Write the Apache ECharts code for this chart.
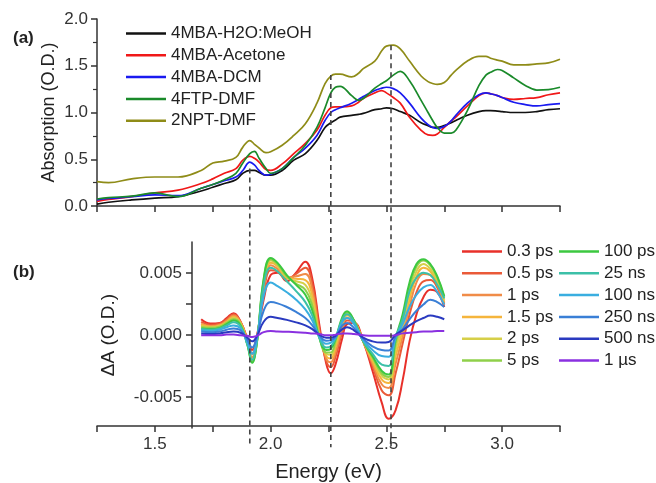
<!DOCTYPE html>
<html>
<head>
<meta charset="utf-8">
<script src="https://cdn.jsdelivr.net/npm/echarts@6/dist/echarts.min.js"></script>
<style>
html,body{margin:0;padding:0;background:#fff;}
#chart{width:656px;height:483px;}
</style>
</head>
<body>
<div id="chart"></div>
<script>
// ---------- Panel (a): steady-state absorption ----------
const absEnergy = [1.25,1.3,1.4,1.5,1.6,1.7,1.75,1.8,1.85,1.88,1.91,1.93,1.95,1.98,2.0,2.05,2.1,2.15,2.2,2.235,2.26,2.28,2.3,2.35,2.38,2.4,2.45,2.48,2.5,2.53,2.56,2.6,2.65,2.68,2.7,2.72,2.75,2.78,2.8,2.85,2.9,2.93,2.95,2.98,3.0,3.05,3.1,3.15,3.2,3.25];
const absNames = ['4MBA-H2O:MeOH','4MBA-Acetone','4MBA-DCM','4FTP-DMF','2NPT-DMF'];
const abs_4MBA_H2O = [0.02,0.04,0.065,0.085,0.10,0.16,0.20,0.24,0.28,0.35, 0.38,0.38,0.36,0.33,0.33,0.38,0.49,0.56,0.70,0.84, 0.89,0.92,0.95,0.97,0.98,0.99,1.03,1.04,1.05,1.04, 1.01,0.97,0.89,0.86,0.84,0.84,0.86,0.89,0.915,0.97, 1.01,1.02,1.02,1.015,1.01,1.00,1.00,1.01,1.03,1.04];
const abs_4MBA_Acetone = [0.05,0.07,0.10,0.14,0.17,0.24,0.29,0.35,0.40,0.49, 0.53,0.51,0.47,0.39,0.38,0.45,0.56,0.67,0.81,0.97, 1.05,1.06,1.06,1.07,1.11,1.15,1.21,1.235,1.21,1.16, 1.10,0.95,0.81,0.76,0.755,0.77,0.84,0.91,0.95,1.07, 1.18,1.21,1.20,1.18,1.16,1.14,1.15,1.16,1.19,1.21];
const abs_4MBA_DCM = [0.065,0.08,0.10,0.12,0.11,0.19,0.23,0.27,0.31,0.38, 0.47,0.44,0.38,0.33,0.34,0.40,0.52,0.62,0.755,0.915, 1.0,1.03,1.05,1.10,1.14,1.17,1.235,1.26,1.27,1.255, 1.21,1.10,0.94,0.87,0.84,0.83,0.85,0.91,0.97,1.10, 1.19,1.21,1.20,1.18,1.16,1.11,1.085,1.07,1.085,1.095];
const abs_4FTP_DMF = [0.075,0.09,0.105,0.14,0.10,0.19,0.23,0.28,0.35,0.46, 0.56,0.585,0.51,0.40,0.35,0.40,0.52,0.65,0.84,1.05, 1.21,1.27,1.28,1.18,1.13,1.15,1.26,1.31,1.34,1.40, 1.44,1.34,1.13,1.00,0.915,0.84,0.78,0.78,0.81,1.02, 1.29,1.40,1.43,1.46,1.45,1.37,1.29,1.24,1.245,1.27];
const abs_2NPT_DMF = [0.26,0.25,0.29,0.31,0.31,0.38,0.46,0.48,0.52,0.63, 0.70,0.66,0.62,0.57,0.58,0.65,0.755,0.88,1.10,1.31, 1.39,1.41,1.41,1.38,1.42,1.47,1.55,1.66,1.71,1.72, 1.68,1.55,1.39,1.33,1.31,1.30,1.32,1.40,1.45,1.55, 1.60,1.60,1.58,1.56,1.55,1.51,1.51,1.52,1.53,1.57];
const absColors = ['#111111','#f01818','#1a1af0','#1a8a2a','#8f8c18'];

// ---------- Panel (b): transient absorption, values in 10^-3 O.D. ----------
const taEnergy = [1.70,1.74,1.78,1.81,1.84,1.87,1.90,1.92,1.94,1.97,2.00,2.03,2.07,2.11,2.15,2.18,2.21,2.24,2.26,2.28,2.31,2.33,2.36,2.40,2.44,2.48,2.51,2.54,2.57,2.60,2.63,2.66,2.69,2.72,2.75];
const taNames = ['0.3 ps','0.5 ps','1 ps','1.5 ps','2 ps','5 ps','100 ps','25 ns','100 ns','250 ns','500 ns','1 \u00b5s'];
const ta_0p3ps = [1.2,0.85,0.9,1.3,1.7,1.0,-0.4,-1.3,-0.2,2.8,4.8, 5.0,4.3,5.0,5.9,4.5,0.8,-2.4,-3.2,-2.5,-0.3,0.8,0.9,-0.6,-3.0,-5.6,-6.9,-6.2,-3.8,-0.6,1.6,3.0,3.6,3.4,2.2];
const ta_0p5ps = [1.0,0.75,0.85,1.2,1.6,1.0,-0.5,-1.6,-0.4,3.3,5.2, 5.1,4.5,4.9,5.4,4.1,0.5,-2.2,-2.7,-1.9,0.2,1.1,1.0,-0.6,-2.6,-4.6,-5.0,-3.2,-0.8,1.6,3.4,4.3,4.4,3.8,2.4];
const ta_1ps = [0.85,0.65,0.75,1.1,1.5,0.95,-0.6,-1.9,-0.6,3.7,5.6, 5.3,4.6,4.7,4.9,3.6,0.2,-2.0,-2.3,-1.5,0.5,1.3,1.1,-0.6,-2.4,-4.1,-4.4,-2.4,-0.2,2.2,4.2,4.9,4.8,4.0,2.5];
const ta_1p5ps = [0.75,0.6,0.7,1.0,1.4,0.9,-0.7,-2.1,-0.7,4.0,5.8, 5.5,4.6,4.5,4.4,3.1,0.0,-1.8,-2.0,-1.1,0.8,1.5,1.1,-0.6,-2.2,-3.7,-4.0,-1.8,0.3,2.8,4.7,5.4,5.1,4.2,2.6];
const ta_2ps = [0.65,0.55,0.65,0.95,1.3,0.85,-0.8,-2.2,-0.8,4.2,6.0, 5.6,4.6,4.3,4.0,2.7,-0.1,-1.6,-1.7,-0.8,1.0,1.6,1.1,-0.6,-2.0,-3.4,-3.7,-1.3,0.8,3.3,5.1,5.7,5.3,4.4,2.8];
const ta_5ps = [0.55,0.5,0.6,0.9,1.2,0.8,-0.9,-2.3,-0.8,4.4,6.1, 5.7,4.7,4.1,3.6,2.3,-0.2,-1.5,-1.5,-0.6,1.2,1.75,1.1,-0.6,-1.9,-3.2,-3.5,-0.8,1.2,3.8,5.5,6.0,5.6,4.6,3.0];
const ta_100ps = [0.45,0.4,0.5,0.8,1.1,0.7,-0.9,-2.35,-0.8,4.5,6.2, 5.8,4.8,4.0,3.2,1.9,-0.3,-1.3,-1.2,-0.4,1.4,1.85,1.1,-0.6,-1.8,-3.0,-3.3,-0.4,1.6,4.2,5.7,6.1,5.7,4.7,3.1];
const ta_25ns = [0.4,0.35,0.45,0.7,0.95,0.6,-0.9,-2.1,-0.7,4.0,5.4, 5.1,4.3,3.5,2.6,1.5,-0.3,-1.1,-1.0,-0.35,1.2,1.6,1.0,-0.6,-1.6,-2.5,-2.6,-0.3,1.2,3.5,4.6,5.0,4.8,4.0,2.9];
const ta_100ns = [0.3,0.25,0.35,0.55,0.7,0.45,-0.7,-1.6,-0.5,3.1,4.2, 3.9,3.4,2.8,2.0,1.1,-0.2,-0.8,-0.7,-0.3,1.0,1.3,0.8,-0.5,-1.3,-1.8,-1.85,-0.3,0.8,2.2,3.2,3.8,4.0,3.4,2.4];
const ta_250ns = [0.2,0.15,0.2,0.35,0.45,0.3,-0.5,-1.1,-0.3,1.9,2.6, 2.5,2.2,1.8,1.3,0.7,-0.1,-0.55,-0.5,-0.25,0.7,0.9,0.5,-0.4,-1.0,-1.3,-1.35,-0.2,0.4,1.2,1.9,2.4,2.8,2.6,2.2];
const ta_500ns = [0.05,0.0,0.05,0.15,0.2,0.1,-0.3,-0.6,-0.2,1.0,1.4, 1.3,1.15,0.95,0.7,0.4,-0.05,-0.3,-0.3,-0.15,0.4,0.55,0.3,-0.3,-0.6,-0.7,-0.65,-0.05,0.3,0.7,1.05,1.3,1.5,1.4,1.2];
const ta_1us = [-0.1,-0.1,-0.1,-0.05,-0.05,-0.1,-0.15,-0.25,-0.15,0.15,0.25, 0.2,0.18,0.15,0.1,0.05,0.0,-0.1,-0.1,-0.05,0.05,0.05,0.0,-0.1,-0.15,-0.15,-0.15,-0.1,0.05,0.1,0.15,0.2,0.2,0.25,0.25];
const taColors = ['#e8302a','#ea5a38','#f08c48','#f5b53c','#d6cf48','#8fd04a','#3cc840','#3cc0a8','#3aaee0','#3a7fd6','#2a3ac0','#8a30e0'];

// ---------- Dashed reference lines ----------
const refEnergy = [1.91, 2.26, 2.52];
const refTopAbs = [0.40, 1.40, 1.72];
const refBottomAbs = -2.58;

// ---------- Axis ticks ----------
const absTicks = [0.0, 0.5, 1.0, 1.5, 2.0];
const taLabelTicks = [-5, 0, 5];
const taTicks = [-5, -2.5, 0, 2.5, 5];
const energyLabels = [1.5, 2.0, 2.5, 3.0];

const FONT = 'Liberation Sans, Arial, sans-serif';
const AX = '#333';

function zip(xs, ys){ return xs.map((x,i)=>[x, ys[i]]); }

const absSeriesData = [abs_4MBA_H2O, abs_4MBA_Acetone, abs_4MBA_DCM, abs_4FTP_DMF, abs_2NPT_DMF];
const taSeriesData = [ta_0p3ps, ta_0p5ps, ta_1ps, ta_1p5ps, ta_2ps, ta_5ps, ta_100ps, ta_25ns, ta_100ns, ta_250ns, ta_500ns, ta_1us];

const series = [];
absSeriesData.forEach((d,i)=>{
  series.push({
    name: absNames[i], type:'line', xAxisIndex:0, yAxisIndex:0,
    data: zip(absEnergy, d), showSymbol:false, symbol:'none', smooth:0.4,
    lineStyle:{color:absColors[i], width:1.7}, itemStyle:{color:absColors[i]}, z:3
  });
});
taSeriesData.forEach((d,i)=>{
  series.push({
    name: taNames[i], type:'line', xAxisIndex:1, yAxisIndex:1,
    data: zip(taEnergy, d), showSymbol:false, symbol:'none', smooth:0.45,
    lineStyle:{color:taColors[i], width:2}, itemStyle:{color:taColors[i]}, z:3
  });
});
refEnergy.forEach((e,i)=>{
  series.push({
    type:'line', xAxisIndex:0, yAxisIndex:0, clip:false, silent:true,
    data:[[e, refTopAbs[i]],[e, refBottomAbs]], showSymbol:false, symbol:'none',
    lineStyle:{color:'#444', width:1.6, type:[5,4]}, z:5
  });
});

const xAxisCommon = {
  type:'value', min:1.25, max:3.25, interval:0.25,
  axisLine:{show:true, onZero:false, lineStyle:{color:AX, width:1.5}},
  axisTick:{show:true, inside:false, length:6, lineStyle:{color:AX, width:1.5}},
  splitLine:{show:false}
};

const legendCommon = {orient:'vertical', icon:'rect', itemWidth:40, itemHeight:2.5, itemGap:4.8,
  textStyle:{fontFamily:FONT, fontSize:17, color:'#222'}};

const option = {
  animation:false,
  backgroundColor:'#fff',
  textStyle:{fontFamily:FONT},
  title:[
    {text:'(a)', left:8, top:25, textStyle:{fontFamily:FONT, fontWeight:'bold', fontSize:17, color:'#222'}},
    {text:'(b)', left:8, top:259, textStyle:{fontFamily:FONT, fontWeight:'bold', fontSize:17, color:'#222'}}
  ],
  legend:[
    Object.assign({data:absNames, left:121, top:20}, legendCommon),
    Object.assign({data:taNames.slice(0,6), left:457, top:238}, legendCommon),
    Object.assign({data:taNames.slice(6), left:554, top:238}, legendCommon)
  ],
  grid:[
    {left:97, right:96, top:19, height:187},
    {left:97, right:96, top:242, height:186},
    {left:192, right:96, top:242, height:186}
  ],
  xAxis:[
    Object.assign({}, xAxisCommon, {gridIndex:0, axisLabel:{show:false}}),
    Object.assign({}, xAxisCommon, {gridIndex:1,
      name:'Energy (eV)', nameLocation:'middle', nameGap:36,
      nameTextStyle:{fontFamily:FONT, fontSize:20, color:'#222'},
      axisLabel:{show:true, margin:10, fontFamily:FONT, fontSize:17, color:'#333',
        customValues: energyLabels, formatter:(v)=>v.toFixed(1)}}),
    {gridIndex:2, type:'value', min:0, max:1, show:false}
  ],
  yAxis:[
    {gridIndex:0, type:'value', min:0, max:2, interval:0.5,
     name:'Absorption (O.D.)', nameLocation:'middle', nameGap:39, nameMoveOverlap:false,
     nameTextStyle:{fontFamily:FONT, fontSize:18, color:'#222'},
     axisLine:{show:true, onZero:false, lineStyle:{color:AX, width:1.5}},
     axisTick:{show:true, length:6, lineStyle:{color:AX, width:1.5}, customValues: absTicks},
     minorTick:{show:true, splitNumber:2, length:4, lineStyle:{color:AX, width:1.2}},
     axisLabel:{margin:9, fontFamily:FONT, fontSize:17, color:'#333', customValues: absTicks, formatter:(v)=>v.toFixed(1)},
     splitLine:{show:false}, minorSplitLine:{show:false}},
    {gridIndex:1, type:'value', min:-7.5, max:7.5, interval:2.5, show:false},
    {gridIndex:2, type:'value', min:-7.5, max:7.5, interval:2.5,
     name:'\u0394A (O.D.)', nameLocation:'middle', nameGap:74,
     nameTextStyle:{fontFamily:FONT, fontSize:19, color:'#222'},
     axisLine:{show:true, onZero:false, lineStyle:{color:AX, width:1.5}},
     axisTick:{show:true, length:6, lineStyle:{color:AX, width:1.5}, customValues: taTicks},
     axisLabel:{margin:10, fontFamily:FONT, fontSize:17, color:'#333', customValues: taLabelTicks,
       formatter:(v)=>(v/1000).toFixed(3)},
     splitLine:{show:false}}
  ],
  series: series
};

const chart = echarts.init(document.getElementById('chart'), null, {renderer:'canvas'});
chart.setOption(option);
</script>
</body>
</html>
